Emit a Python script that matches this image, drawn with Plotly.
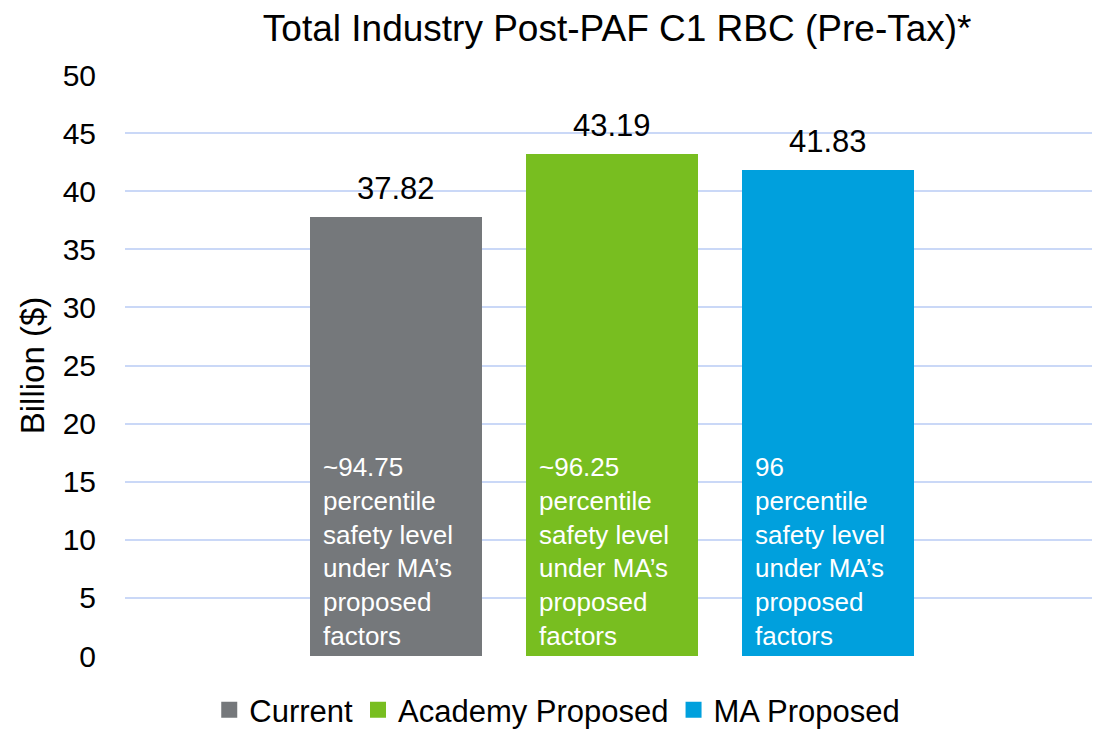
"""
Total Industry Post-PAF C1 RBC (Pre-Tax) - bar chart recreation
"""

import plotly.graph_objects as go

# ============================================================================
# DATA
# ============================================================================

series_names = ["Current", "Academy Proposed", "MA Proposed"]
rbc_values = [37.82, 43.19, 41.83]
inner_notes = [
    "~94.75<br>percentile<br>safety level<br>under MA’s<br>proposed<br>factors",
    "~96.25<br>percentile<br>safety level<br>under MA’s<br>proposed<br>factors",
    "96<br>percentile<br>safety level<br>under MA’s<br>proposed<br>factors",
]
bar_colors = ["#75787B", "#78BE20", "#00A0DD"]
y_ticks = [0, 5, 10, 15, 20, 25, 30, 35, 40, 45, 50]

FONT = "Liberation Sans, Arial, sans-serif"
BAR_WIDTH = 0.796

fig = go.Figure()

for i, (name, val, color) in enumerate(zip(series_names, rbc_values, bar_colors)):
    fig.add_trace(go.Bar(
        name=name,
        x=[i],
        y=[val],
        width=BAR_WIDTH,
        marker=dict(color=color, line=dict(width=0)),
        hoverinfo="skip",
        showlegend=False,
    ))
    # legend entry with a bigger square swatch
    fig.add_trace(go.Scatter(
        name=name,
        x=[None], y=[None],
        mode="markers",
        marker=dict(symbol="square", size=18, color=color),
        showlegend=True,
    ))
    # value label above the bar
    fig.add_annotation(
        x=i, y=val, xref="x", yref="y",
        text=f"{val:.2f}",
        showarrow=False, yanchor="bottom", yshift=9,
        font=dict(family=FONT, size=31, color="#000000"),
    )
    # note inside the bar
    fig.add_annotation(
        x=i - BAR_WIDTH / 2, y=17.7, xref="x", yref="y",
        text=inner_notes[i],
        showarrow=False, xanchor="left", yanchor="top", xshift=11,
        align="left",
        font=dict(family=FONT, size=26, color="#FFFFFF"),
    )

fig.update_layout(
    title=dict(
        text="Total Industry Post-PAF C1 RBC (Pre-Tax)*",
        x=0.509, xref="paper", xanchor="center",
        y=1 - 28 / 731, yref="container", yanchor="middle",
        font=dict(family=FONT, size=37, color="#000000"),
    ),
    width=1094, height=731,
    margin=dict(l=125, r=2, t=75, b=75, autoexpand=False),
    plot_bgcolor="white",
    paper_bgcolor="white",
    showlegend=True,
    legend=dict(
        orientation="h",
        x=0.447, xanchor="center",
        y=-0.093, yanchor="middle",
        font=dict(family=FONT, size=31, color="#000000"),
        itemwidth=30,
        tracegroupgap=0,
    ),
    xaxis=dict(
        range=[-1.255, 3.222],
        showticklabels=False, showgrid=False, zeroline=False, showline=False,
        ticks="", automargin=False,
    ),
    yaxis=dict(
        range=[0, 50],
        tickvals=y_ticks,
        showgrid=True, gridcolor="#CAD8F7", gridwidth=1.5,
        zeroline=False, showline=False, ticks="",
        ticklabelstandoff=28, automargin=False,
        tickfont=dict(family=FONT, size=30, color="#000000"),
        title=dict(text="Billion ($)", standoff=8,
                   font=dict(family=FONT, size=33, color="#000000")),
    ),
    bargap=0,
)

# drop the default page margin so the 1094x731 figure fills the window
fig.write_html(
    "out.html",
    config={"displayModeBar": False},
    post_script="document.body.style.margin='0';document.body.style.overflow='hidden';",
)
